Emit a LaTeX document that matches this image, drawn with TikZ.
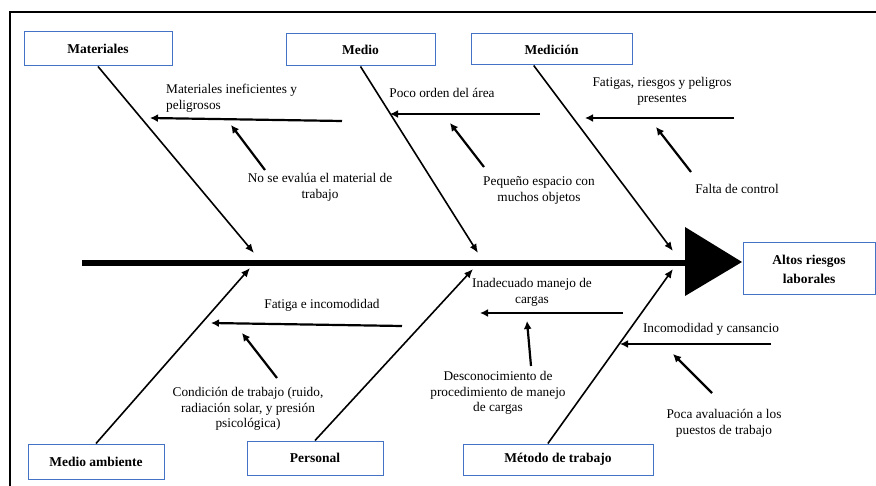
\documentclass[tikz,border=0pt]{standalone}
\usepackage{fontspec}
\setmainfont{Liberation Serif}
\usetikzlibrary{arrows.meta,calc}
\definecolor{boxblue}{HTML}{4472C4}
\begin{document}
\begin{tikzpicture}[x=1pt,y=-1pt,
  catbox/.style={draw=boxblue,line width=1pt,rectangle,inner sep=0pt,align=center,
    font=\rmfamily\fontsize{13.5}{19}\selectfont\bfseries},
  lbl/.style={align=center,inner sep=0pt,font=\rmfamily\fontsize{13.3}{15.8}\selectfont,text=black},
  bone/.style={line width=1.6pt,-{Latex[length=9pt,width=7.5pt]}},
  sub/.style={line width=2.2pt,-{Latex[length=8pt,width=8pt]}},
  spine/.style={line width=6pt}]
\useasboundingbox (0,0) rectangle (876,486);
\fill[white] (0,0) rectangle (876,486);
% frame
\draw[line width=2pt] (10,490) -- (10,12) -- (880,12);

% boxes
\node[catbox,minimum width=148pt,minimum height=34pt] (mat) at (98,49) {Materiales};
\node[catbox,minimum width=149pt,minimum height=32pt] (medio) at (360.5,50) {Medio};
\node[catbox,minimum width=161pt,minimum height=31pt] (medic) at (551.5,49.5) {Medición};
\node[catbox,minimum width=132pt,minimum height=52pt] (alto) at (809,269) {Altos riesgos\\laborales};
\node[catbox,minimum width=136pt,minimum height=35pt] (amb) at (96,461.5) {Medio ambiente};
\node[catbox,minimum width=136pt,minimum height=34pt] (pers) at (315,458) {Personal};
\node[catbox,minimum width=190pt,minimum height=31pt] (met) at (558,459.5) {Método de trabajo};

% spine and head
\coordinate (sp0) at (82,263);
\coordinate (sp1) at (688,263);
\draw[spine] (sp0) -- (sp1);
\coordinate (h1) at (685,227);
\coordinate (h2) at (685,296);
\coordinate (h3) at (742,262);
\fill (h1) -- (h3) -- (h2) -- cycle;

% bone end points
\coordinate (bm) at (254,253);
\coordinate (bme) at (478,253);
\coordinate (bmc) at (673,251);
\coordinate (ba) at (250,268);
\coordinate (bp) at (473,269);
\coordinate (bt) at (673,269);
\draw[bone] (mat.south) -- (bm);
\draw[bone] (medio.south) -- (bme);
\draw[bone] ($(medic.south west)!0.39!(medic.south east)$) -- (bmc);
\draw[bone] (amb.north) -- (ba);
\draw[bone] (pers.north) -- (bp);
\draw[bone] ($(met.north west)!0.447!(met.north east)$) -- (bt);

% sub-cause horizontal arrows
\coordinate (s1a) at (342,121); \coordinate (s1b) at (150,118);
\coordinate (s2a) at (540,114); \coordinate (s2b) at (390,114);
\coordinate (s3a) at (734,118); \coordinate (s3b) at (585,118);
\coordinate (s4a) at (402,326); \coordinate (s4b) at (211,323);
\coordinate (s5a) at (623,313); \coordinate (s5b) at (480,313);
\coordinate (s6a) at (771,344); \coordinate (s6b) at (620,344);
\draw[sub] (s1a) -- (s1b);
\draw[sub] (s2a) -- (s2b);
\draw[sub] (s3a) -- (s3b);
\draw[sub] (s4a) -- (s4b);
\draw[sub] (s5a) -- (s5b);
\draw[sub] (s6a) -- (s6b);

% secondary diagonal arrows
\coordinate (d1a) at (265,170); \coordinate (d1b) at (231,125);
\coordinate (d2a) at (484,167); \coordinate (d2b) at (450,123);
\coordinate (d3a) at (691,172); \coordinate (d3b) at (656,127);
\coordinate (d4a) at (277,378); \coordinate (d4b) at (242,333);
\coordinate (d5a) at (531,366); \coordinate (d5b) at (527,321);
\coordinate (d6a) at (712,393); \coordinate (d6b) at (673,354);
\draw[sub] (d1a) -- (d1b);
\draw[sub] (d2a) -- (d2b);
\draw[sub] (d3a) -- (d3b);
\draw[sub] (d4a) -- (d4b);
\draw[sub] (d5a) -- (d5b);
\draw[sub] (d6a) -- (d6b);

% labels
\node[lbl,align=left,anchor=west] (t1) at (166,98.5) {Materiales ineficientes y\\peligrosos};
\node[lbl] (t2) at (320,187) {No se evalúa el material de\\trabajo};
\node[lbl] (t3) at (442,93) {Poco orden del área};
\node[lbl] (t4) at (539,190.5) {Pequeño espacio con\\muchos objetos};
\node[lbl] (t5) at (662,91) {Fatigas, riesgos y peligros\\presentes};
\node[lbl] (t6) at (737,189) {Falta de control};
\node[lbl] (t7) at (322,305) {Fatiga e incomodidad};
\node[lbl] (t8) at (248,409) {Condición de trabajo (ruido,\\radiación solar, y presión\\psicológica)};
\node[lbl] (t9) at (532,292.5) {Inadecuado manejo de\\cargas};
\node[lbl] (t10) at (498,393) {Desconocimiento de\\procedimiento de manejo\\de cargas};
\node[lbl] (t11) at (711,329) {Incomodidad y cansancio};
\node[lbl] (t12) at (724,423) {Poca avaluación a los\\puestos de trabajo};
\end{tikzpicture}
\end{document}
